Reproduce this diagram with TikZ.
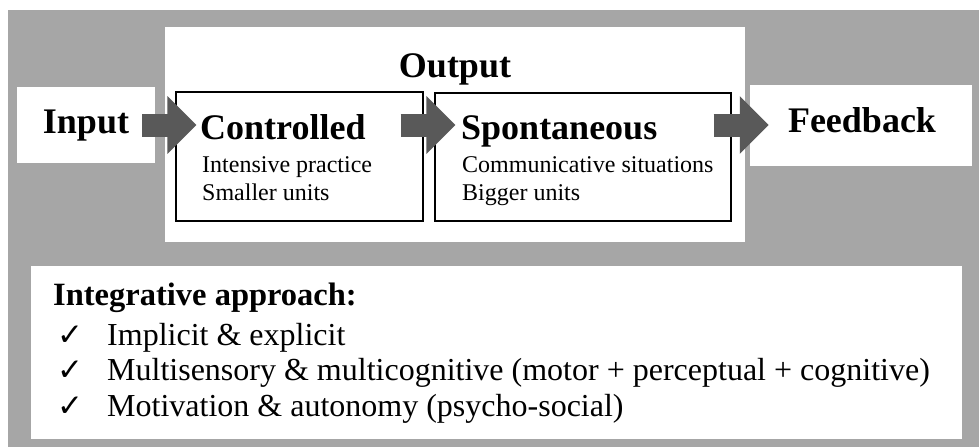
\documentclass[tikz,border=0pt]{standalone}
\usepackage{fontspec}
\setmainfont{Liberation Serif}
\newfontfamily\ticksym{DejaVu Sans}
\usepackage{xcolor}
\definecolor{bggray}{RGB}{166,166,166}
\definecolor{arrowgray}{RGB}{89,89,89}
\usetikzlibrary{arrows.meta,positioning,calc}
\tikzset{
  panel/.style={fill=white,inner sep=0pt},
  stagebox/.style={draw,line width=1.2pt,fill=white,inner sep=0pt},
  bigarrow/.style={arrowgray,line width=23pt,-{Triangle[length=29pt,width=56pt]}},
  headtext/.style={inner sep=0pt,font=\fontsize{36}{40}\selectfont\bfseries},
  bodytext/.style={inner sep=0pt,anchor=base west,font=\fontsize{24}{28}\selectfont},
  listtext/.style={inner sep=0pt,anchor=base west,font=\fontsize{32}{36}\selectfont},
  ticktext/.style={inner sep=0pt,anchor=base west,font=\fontsize{31}{34}\ticksym},
}
\begin{document}
\begin{tikzpicture}[x=1pt,y=-1pt]
  \useasboundingbox (0,0) rectangle (979,447);
  \fill[bggray] (8,10) rectangle (979,447);
  \node[panel,minimum width=580pt,minimum height=215pt] (out) at (455,134.5) {};
  \node[panel,minimum width=138pt,minimum height=76pt] (inp) at (86,125) {};
  \node[panel,minimum width=222pt,minimum height=81pt] (fb) at (861,125.5) {};
  \node[panel,minimum width=931pt,minimum height=173pt] (integ) at (496.5,352.5) {};
  \node[stagebox,minimum width=247pt,minimum height=129pt] (ctrl) at (299.5,156.5) {};
  \node[stagebox,minimum width=296pt,minimum height=128pt] (spon) at (583,157) {};
  \node[headtext,anchor=base] (outlbl) at (455,77) {Output};
  \node[headtext,anchor=base] (inplbl) at (86,133) {Input};
  \node[headtext,anchor=base] (fblbl) at (862,132) {Feedback};
  \node[headtext,anchor=base west] (ctrlhead) at (200,139) {Controlled};
  \node[bodytext] (ctrl1) at (202,172) {Intensive practice};
  \node[bodytext] (ctrl2) at (202,200) {Smaller units};
  \node[headtext,anchor=base west] (sponhead) at (461,139) {Spontaneous};
  \node[bodytext] (spon1) at (462,172) {Communicative situations};
  \node[bodytext] (spon2) at (462,200) {Bigger units};
  \draw[bigarrow,shorten <=-13pt,shorten >=-21pt] (inp.east) -- (inp.east -| ctrl.west);
  \draw[bigarrow,shorten <=-23pt,shorten >=-21pt] (ctrl.east |- inp.east) -- (spon.west |- inp.east);
  \draw[bigarrow,shorten <=-18pt,shorten >=-19pt] (spon.east |- inp.east) -- (fb.west |- inp.east);
  \node[inner sep=0pt,anchor=base west,font=\fontsize{32.5}{36}\selectfont\bfseries] (integhead) at (53,305) {Integrative approach:};
  \node[ticktext] (tick1) at (57,345) {✓};
  \node[listtext] (item1) at (107,345) {Implicit \& explicit};
  \node[ticktext] (tick2) at (57,380) {✓};
  \node[listtext] (item2) at (107,380) {Multisensory \& multicognitive (motor + perceptual + cognitive)};
  \node[ticktext] (tick3) at (57,416) {✓};
  \node[listtext] (item3) at (107,416) {Motivation \& autonomy (psycho-social)};
\end{tikzpicture}
\end{document}
